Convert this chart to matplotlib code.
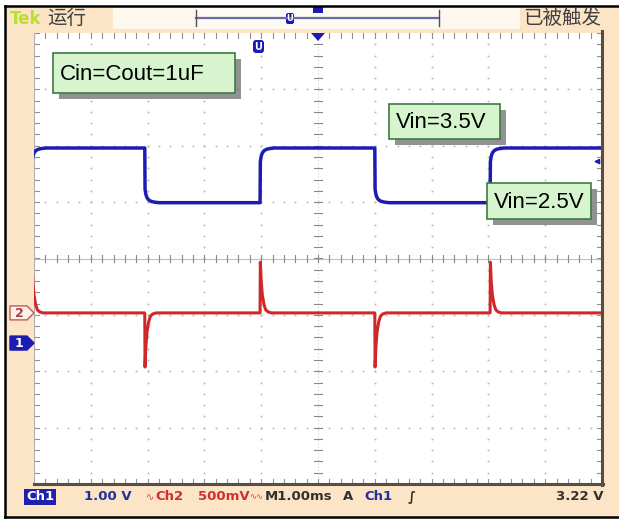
import numpy as np
import matplotlib
matplotlib.use("Agg")
import matplotlib.pyplot as plt
from matplotlib.patches import Rectangle, Polygon, FancyBboxPatch

# ---- scope settings ----
ch1_volts_per_div = 1.00
ch2_volts_per_div = 0.50
ch1_ground_div = -1.5      # "1" marker
ch2_ground_div = -0.965    # "2" marker
trigger_level_v = 3.22

# ---- waveform data (ms, volts) ----
edge_times_ms = [-5.04, -3.05, -1.02, 1.00, 3.03]
edge_kind = ["rise", "fall", "rise", "fall", "rise"]
ch1_high_v = 3.46
ch1_low_v = 2.49
# Ch1 settling after each edge: time after edge (ms), remaining fraction of the step
ch1_settle_dt = [0.005, 0.02, 0.04, 0.07, 0.11, 0.17, 0.25]
ch1_settle_frac = [0.25, 0.15, 0.09, 0.05, 0.025, 0.01, 0.0]
# Ch2 (AC) spike at each edge
ch2_spike_peak_v = {"rise": 0.45, "fall": -0.48}
ch2_spike_dt = [0.005, 0.02, 0.04, 0.07, 0.10, 0.14, 0.20]
ch2_spike_frac = [1.0, 0.62, 0.35, 0.16, 0.06, 0.02, 0.0]

labels = ["Cin=Cout=1uF", "Vin=3.5V", "Vin=2.5V"]


def build_ch1():
    t, v = [], []
    level = ch1_low_v
    for te, kind in zip(edge_times_ms, edge_kind):
        new = ch1_high_v if kind == "rise" else ch1_low_v
        t.append(te); v.append(level)
        for dt, fr in zip(ch1_settle_dt, ch1_settle_frac):
            t.append(te + dt); v.append(new + (level - new) * fr)
        level = new
    t.append(5.0); v.append(level)
    return np.array(t), np.array(v)


def build_ch2():
    t, v = [], []
    for te, kind in zip(edge_times_ms, edge_kind):
        pk = ch2_spike_peak_v[kind]
        t.append(te); v.append(0.0)
        for dt, fr in zip(ch2_spike_dt, ch2_spike_frac):
            t.append(te + dt); v.append(pk * fr)
    t.append(5.0); v.append(0.0)
    return np.array(t), np.array(v)


W, H = 619, 521
PEACH = "#fce5c6"
BLUE = "#1c1cb4"
RED = "#d02828"

fig = plt.figure(figsize=(W / 100, H / 100), dpi=100, facecolor="white")

# pixel-space background layer
bg = fig.add_axes([0, 0, 1, 1], zorder=0)
bg.set_xlim(0, W); bg.set_ylim(H, 0); bg.axis("off")
bg.add_patch(Rectangle((5, 6), W - 5, 511, facecolor=PEACH, edgecolor="none"))
bg.add_patch(Rectangle((113, 8), 82, 21, facecolor="#fdf7ee", edgecolor="none"))
bg.add_patch(Rectangle((195, 8), 245, 21, facecolor="#fdf9f3", edgecolor="none"))
bg.add_patch(Rectangle((440, 8), 80, 21, facecolor="#fdf7ee", edgecolor="none"))

# graticule axes (divisions)
gx0, gy0, gx1, gy1 = 34, 33, 602, 484
ax = fig.add_axes([gx0 / W, 1 - gy1 / H, (gx1 - gx0) / W, (gy1 - gy0) / H], zorder=1)
ax.set_xlim(-5, 5); ax.set_ylim(-4, 4)
ax.set_facecolor("white")
for s in ax.spines.values():
    s.set_visible(False)
ax.set_xticks([]); ax.set_yticks([])

minor = np.arange(-5, 5.001, 0.2)
minor_y = np.arange(-4, 4.001, 0.2)
dot_col = "#b4b4b4"
for gx in range(-4, 5):
    if gx == 0:
        continue
    ax.plot(np.full_like(minor_y, gx), minor_y, ls="none", marker="s", ms=1.2, color=dot_col, mec="none")
for gy in range(-3, 4):
    if gy == 0:
        continue
    ax.plot(minor, np.full_like(minor, gy), ls="none", marker="s", ms=1.2, color=dot_col, mec="none")
# centre cross with ticks
ax.axhline(0, color="#c0c0c0", lw=0.8)
ax.axvline(0, color="#d0d0d0", lw=0.8, ls=(0, (1, 2)))
for x in minor:
    ax.plot([x, x], [-0.06, 0.06], color="#888888", lw=0.8)
for y in minor_y:
    ax.plot([-0.07, 0.07], [y, y], color="#888888", lw=0.8)
# edge ticks
for x in minor:
    ax.plot([x, x], [4, 3.92], color="#909090", lw=0.8)
    ax.plot([x, x], [-4, -3.92], color="#909090", lw=0.8)
for y in minor_y:
    ax.plot([-5, -4.92], [y, y], color="#909090", lw=0.8)
    ax.plot([5, 4.92], [y, y], color="#909090", lw=0.8)
ax.axvline(-5, color="#b0b0b0", lw=0.8)

# traces
t1, v1 = build_ch1()
t2, v2 = build_ch2()
ax.plot(t1, v1 / ch1_volts_per_div + ch1_ground_div, color=BLUE, lw=2.5, solid_joinstyle="round")
ax.plot(t2, v2 / ch2_volts_per_div + ch2_ground_div, color=RED, lw=2.2, solid_joinstyle="round")

# foreground decoration layer (pixels)
fg = fig.add_axes([0, 0, 1, 1], zorder=2)
fg.set_xlim(0, W); fg.set_ylim(H, 0); fg.axis("off"); fg.patch.set_visible(False)

# graticule bevel lines
fg.plot([gx1, gx1], [gy0 - 2, gy1 + 1], color="#5a4c42", lw=2.2)
fg.plot([gx0, gx1 + 1], [gy1, gy1], color="#5a4c42", lw=2.2)
# outer frame
fg.plot([5, W], [6, 6], color="black", lw=1.8)
fg.plot([5, 5], [6, 517], color="black", lw=1.8)
fg.plot([5, W], [517, 517], color="black", lw=1.8)

# top bar
fg.text(10, 19, "Tek", color="#b8e02c", fontsize=12, fontweight="bold", va="center", family="DejaVu Sans")
fg.text(47, 18, "运行", color="#404040", fontsize=14, va="center", family=["Noto Sans CJK SC", "DejaVu Sans"])
fg.text(523, 18, "已被触发", color="#404040", fontsize=14, va="center", family=["Noto Sans CJK SC", "DejaVu Sans"])
fg.plot([196, 439], [18, 18], color="#6a6aa8", lw=1.6)
fg.plot([196, 196], [10, 26], color="#505050", lw=1.0)
fg.plot([439, 439], [10, 26], color="#505050", lw=1.0)
fg.add_patch(FancyBboxPatch((286, 13), 8, 11, boxstyle="round,pad=0,rounding_size=2", fc=BLUE, ec="none"))
fg.text(290, 18.5, "U", color="white", fontsize=6, fontweight="bold", ha="center", va="center")
fg.add_patch(Rectangle((313, 7), 10, 6, fc=BLUE, ec="none"))
# trigger position triangle and "U" marker in the graticule
fg.add_patch(Polygon([(311, 33), (325, 33), (318, 41)], closed=True, fc=BLUE, ec="none"))
fg.add_patch(FancyBboxPatch((253, 40), 11, 13, boxstyle="round,pad=0,rounding_size=3", fc=BLUE, ec="none"))
fg.text(258.5, 46.5, "U", color="white", fontsize=7, fontweight="bold", ha="center", va="center")


# channel ground markers (from the data settings)
def px_from_div(d):
    return gy0 + (4 - d) * (gy1 - gy0) / 8


y2 = px_from_div(ch2_ground_div)
y1 = px_from_div(ch1_ground_div)
fg.add_patch(Polygon([(10, y2 - 7), (27, y2 - 7), (34, y2), (27, y2 + 7), (10, y2 + 7)],
                     closed=True, fc="#fdf0e6", ec="#c05a5a", lw=1.0))
fg.text(19, y2 + 0.5, "2", color="#b04040", fontsize=9, fontweight="bold", ha="center", va="center")
fg.add_patch(Polygon([(10, y1 - 7), (27, y1 - 7), (34, y1), (27, y1 + 7), (10, y1 + 7)],
                     closed=True, fc=BLUE, ec=BLUE, lw=1.0))
fg.text(19, y1 + 0.5, "1", color="white", fontsize=9, fontweight="bold", ha="center", va="center")

# trigger level arrow on the right
yt = px_from_div(trigger_level_v / ch1_volts_per_div + ch1_ground_div)
fg.annotate("", xy=(591, yt), xytext=(601, yt),
            arrowprops=dict(arrowstyle="-|>", color=BLUE, lw=1.2, mutation_scale=7))

# annotation boxes
boxes = [(53, 53, 182, 40), (389, 104, 111, 35), (487, 183, 104, 36)]
for (bx, by, bw, bh), txt in zip(boxes, labels):
    fg.add_patch(Rectangle((bx + 6, by + 6), bw, bh, fc="#6e6e6e", ec="none", alpha=0.75))
    fg.add_patch(Rectangle((bx, by), bw, bh, fc="#d6f5cf", ec="#3d7a3d", lw=1.2))
    fg.text(bx + 7, by + bh / 2 + 1, txt, fontsize=16, family="Liberation Sans",
            color="black", va="center", ha="left")

# status bar
sy = 497
fs = 9.5
fg.text(40, sy, "Ch1", color="white", fontsize=fs, fontweight="bold", ha="center", va="center",
        bbox=dict(boxstyle="square,pad=0.15", fc="#2020b0", ec="none"))
fg.text(84, sy, "1.00 V", color="#2030a0", fontsize=fs, fontweight="bold", va="center")
fg.text(146, sy, "∿", color="#d04040", fontsize=7, va="center", family=["DejaVu Sans"])
fg.text(155, sy, "Ch2", color="#d03030", fontsize=fs, fontweight="bold", va="center")
fg.text(198, sy, "500mV", color="#d03030", fontsize=fs, fontweight="bold", va="center")
fg.text(249, sy, "∿∿", color="#d04040", fontsize=6, va="center", family=["DejaVu Sans"])
fg.text(265, sy, "M1.00ms", color="#303030", fontsize=fs, fontweight="bold", va="center")
fg.text(343, sy, "A", color="#303030", fontsize=fs, fontweight="bold", va="center")
fg.text(364, sy, "Ch1", color="#2030a0", fontsize=fs, fontweight="bold", va="center")
fg.text(408, sy, "∫", color="#303030", fontsize=fs, fontweight="bold", va="center")
fg.text(604, sy, f"{trigger_level_v:.2f} V", color="#303030", fontsize=fs, fontweight="bold",
        va="center", ha="right")

fig.savefig("out.png", dpi=100, facecolor=fig.get_facecolor())
